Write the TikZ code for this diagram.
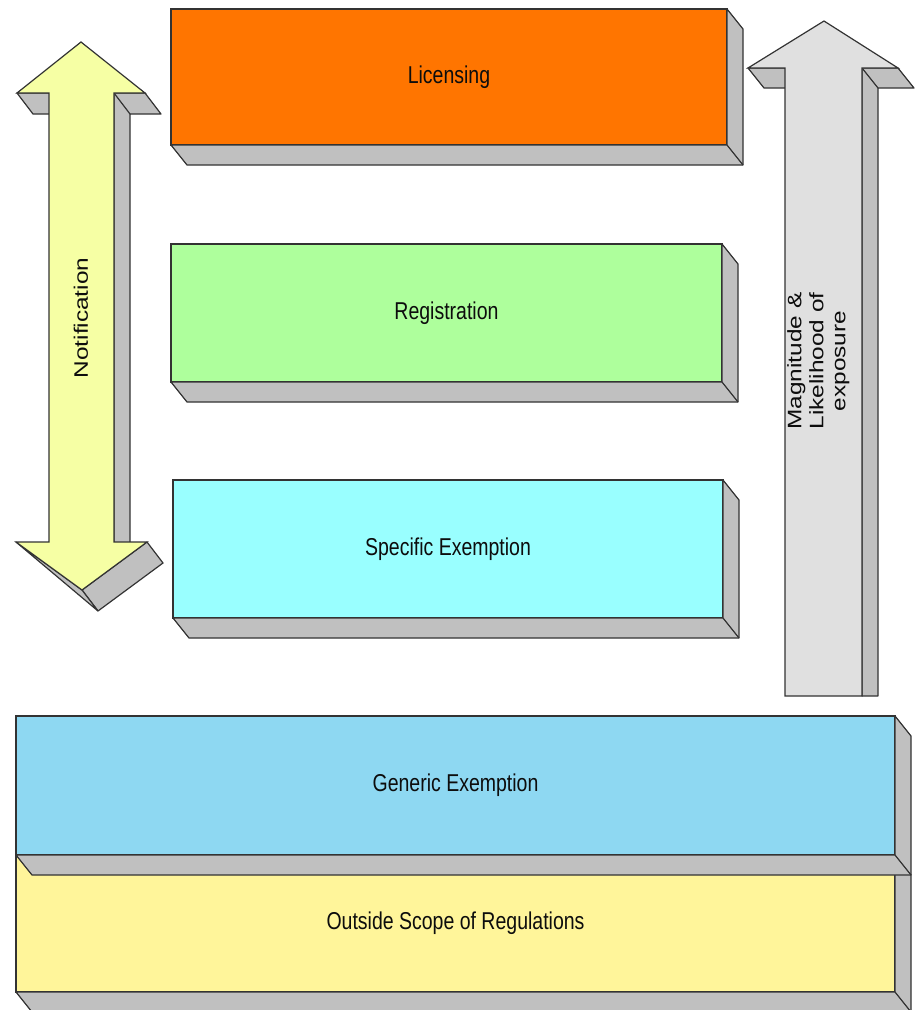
\documentclass[tikz,border=0pt]{standalone}
\usepackage{fontspec}
\setmainfont{Liberation Sans}
\usepackage{graphicx}
\usepackage{tikz}

\definecolor{licorange}{HTML}{FF7500}
\definecolor{reggreen}{HTML}{AEFF9C}
\definecolor{speccyan}{HTML}{99FFFF}
\definecolor{genblue}{HTML}{8ED8F2}
\definecolor{outyellow}{HTML}{FFF59A}
\definecolor{notifyellow}{HTML}{F6FFA4}
\definecolor{riskgray}{HTML}{E0E0E0}
\definecolor{sidegray}{HTML}{C0C0C0}

\newcommand{\talltext}[1]{\scalebox{1}[1.25]{#1}}
\newcommand{\widetext}[1]{\scalebox{1.25}[1]{#1}}

\begin{document}
\begin{tikzpicture}[x=1pt, y=-1pt,
  every node/.style={font=\fontsize{19.5}{22}\selectfont, text=black!95, inner sep=0pt, outer sep=0pt},
  box/.style={draw=black!80, line width=1.2pt},
  side/.style={fill=sidegray, draw=black!80, line width=1.2pt, line join=round},
  edge/.style={draw=black!80, line width=1.2pt}]

  \useasboundingbox (0,0) rectangle (918,1010);

  % notification arrow
  \draw[side] (145,93) -- (114,93) -- (114,542) -- (130,563) -- (130,114) -- (161,114) -- cycle;
  \draw[edge] (114,93) -- (130,114);
  \draw[side] (49,93) -- (17,93) -- (33,114) -- (65,114) -- cycle;
  \draw[side] (147,542) -- (82,590) -- (98,611) -- (163,563) -- cycle;
  \draw[side] (16,542) -- (82,590) -- (98,611) -- cycle;
  \draw[box, fill=notifyellow] (81,42) -- (145,93) -- (114,93) -- (114,542) -- (147,542)
    -- (82,590) -- (16,542) -- (49,542) -- (49,93) -- (17,93) -- cycle;
  \node[rotate=90] (notification) at (81,318) {\widetext{Notification}};

  % magnitude arrow
  \draw[side] (898,68) -- (862,68) -- (862,696) -- (878,696) -- (878,88) -- (914,88) -- cycle;
  \draw[edge] (862,68) -- (878,88);
  \draw[side] (785,68) -- (748,68) -- (764,88) -- (801,88) -- cycle;
  \draw[box, fill=riskgray] (824,21) -- (898,68) -- (862,68) -- (862,696) -- (785,696)
    -- (785,68) -- (748,68) -- cycle;
  \node[rotate=90] (magnitude) at (819,361)
    {\widetext{\begin{tabular}{@{}c@{}}Magnitude \&\\Likelihood of\\exposure\end{tabular}}};

  % licensing
  \node[box, fill=licorange, minimum width=556pt, minimum height=136pt] (licensing) at (449,77) {\talltext{Licensing}};
  \draw[side] (licensing.south west) -- (licensing.south east) -- (licensing.north east) -- ++(16,20)
    |- ([shift={(16,20)}]licensing.south west) -- cycle;
  \draw[edge] (licensing.south east) -- ++(16,20);

  % registration
  \node[box, fill=reggreen, minimum width=551pt, minimum height=138pt] (registration) at (446.5,313) {\talltext{Registration}};
  \draw[side] (registration.south west) -- (registration.south east) -- (registration.north east) -- ++(16,20)
    |- ([shift={(16,20)}]registration.south west) -- cycle;
  \draw[edge] (registration.south east) -- ++(16,20);

  % specific exemption
  \node[box, fill=speccyan, minimum width=550pt, minimum height=138pt] (specific) at (448,549) {\talltext{Specific Exemption}};
  \draw[side] (specific.south west) -- (specific.south east) -- (specific.north east) -- ++(16,20)
    |- ([shift={(16,20)}]specific.south west) -- cycle;
  \draw[edge] (specific.south east) -- ++(16,20);

  % outside scope
  \node[box, fill=outyellow, minimum width=879pt, minimum height=137pt] (outside) at (455.5,923.5) {\talltext{Outside Scope of Regulations}};
  \draw[side] (outside.south west) -- (outside.south east) -- (outside.north east) -- ++(16,20)
    |- ([shift={(16,20)}]outside.south west) -- cycle;
  \draw[edge] (outside.south east) -- ++(16,20);

  % generic exemption
  \node[box, fill=genblue, minimum width=879pt, minimum height=139pt] (generic) at (455.5,785.5) {\talltext{Generic Exemption}};
  \draw[side] (generic.south west) -- (generic.south east) -- (generic.north east) -- ++(16,20)
    |- ([shift={(16,20)}]generic.south west) -- cycle;
  \draw[edge] (generic.south east) -- ++(16,20);

\end{tikzpicture}
\end{document}
